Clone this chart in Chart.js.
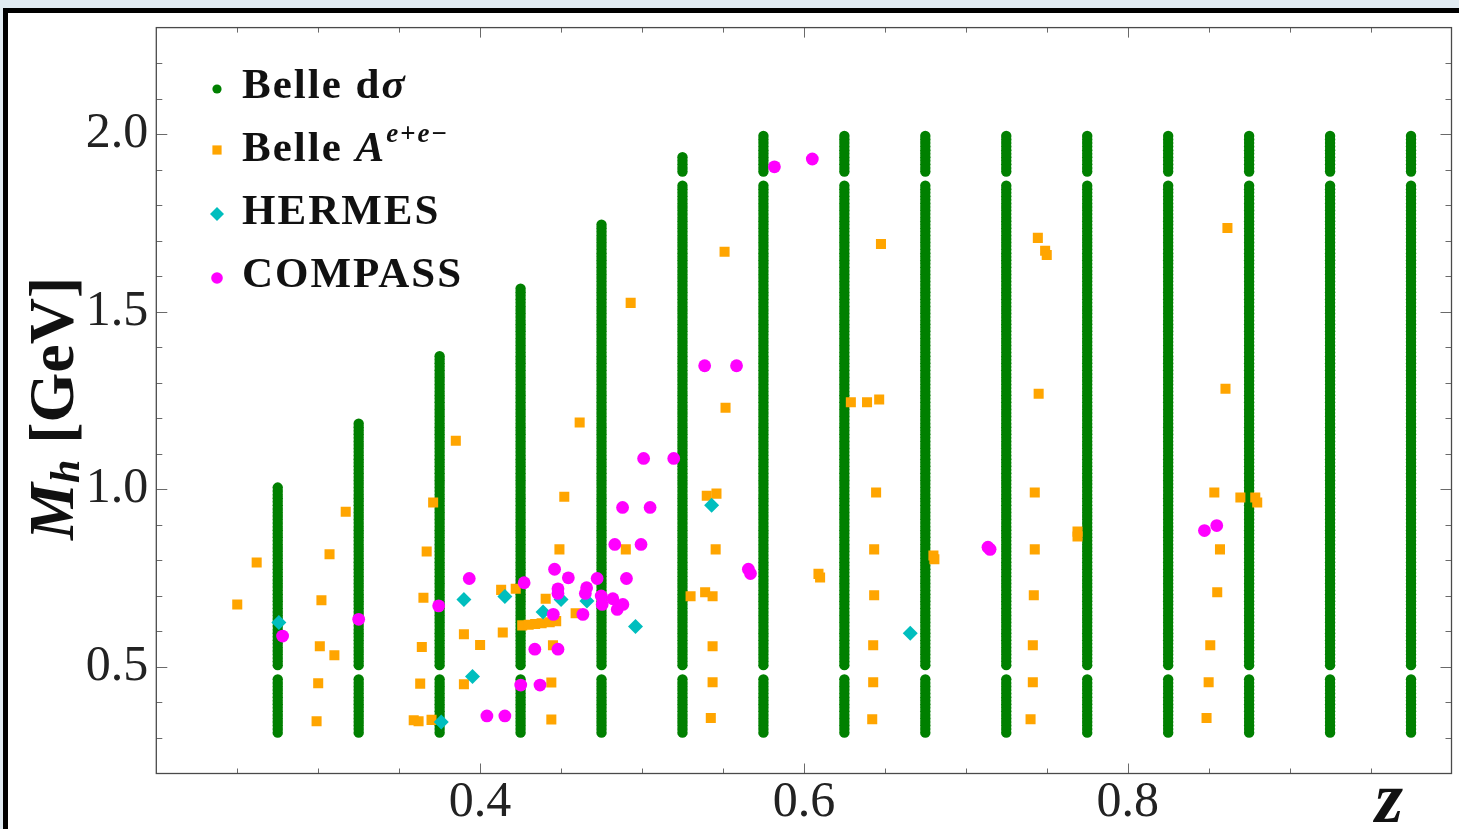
<!DOCTYPE html>
<html>
<head>
<meta charset="utf-8">
<title>Kinematic coverage in z and Mh</title>
<script src="https://cdn.jsdelivr.net/npm/chart.js@4.4.1/dist/chart.umd.min.js"></script>
<style>
  html, body { margin: 0; padding: 0; }
  body { width: 1459px; height: 829px; overflow: hidden; background: #e1ebf2; position: relative; }
  .frame { position: absolute; left: 3px; top: 8px; width: 1500px; height: 900px; background: #fff;
           border-left: 5px solid #000; border-top: 5px solid #000; }
  canvas { position: absolute; left: 0; top: 0; }
</style>
</head>
<body>
<div class="frame"></div>
<canvas id="coverage" width="1459" height="829"></canvas>
<script>
// Belle dσ: grid of z bins x Mh bins, each z bin cut at its own Mh maximum
const belleZ = [0.275, 0.325, 0.375, 0.425, 0.475, 0.525, 0.575, 0.625, 0.675, 0.725, 0.775, 0.825, 0.875, 0.925, 0.975];
const belleMhMax = [1.005, 1.185, 1.375, 1.565, 1.745, 1.935, 1.995, 1.995, 1.995, 1.995, 1.995, 1.995, 1.995, 1.995, 1.995];
const belleMh = [
    0.315, 0.325, 0.335, 0.345, 0.355, 0.365, 0.375, 0.385, 0.395, 0.405, 0.415, 0.425, 0.435, 0.445, 0.455, 0.465,
    0.505, 0.515, 0.525, 0.535, 0.545, 0.555, 0.565, 0.575, 0.585, 0.595,
    0.605, 0.615, 0.625, 0.635, 0.645, 0.655, 0.665, 0.675, 0.685, 0.695,
    0.705, 0.715, 0.725, 0.735, 0.745, 0.755, 0.765, 0.775, 0.785, 0.795,
    0.805, 0.815, 0.825, 0.835, 0.845, 0.855, 0.865, 0.875, 0.885, 0.895,
    0.905, 0.915, 0.925, 0.935, 0.945, 0.955, 0.965, 0.975, 0.985, 0.995,
    1.005, 1.015, 1.025, 1.035, 1.045, 1.055, 1.065, 1.075, 1.085, 1.095,
    1.105, 1.115, 1.125, 1.135, 1.145, 1.155, 1.165, 1.175, 1.185, 1.195,
    1.205, 1.215, 1.225, 1.235, 1.245, 1.255, 1.265, 1.275, 1.285, 1.295,
    1.305, 1.315, 1.325, 1.335, 1.345, 1.355, 1.365, 1.375, 1.385, 1.395,
    1.405, 1.415, 1.425, 1.435, 1.445, 1.455, 1.465, 1.475, 1.485, 1.495,
    1.505, 1.515, 1.525, 1.535, 1.545, 1.555, 1.565, 1.575, 1.585, 1.595,
    1.605, 1.615, 1.625, 1.635, 1.645, 1.655, 1.665, 1.675, 1.685, 1.695,
    1.705, 1.715, 1.725, 1.735, 1.745, 1.755, 1.765, 1.775, 1.785, 1.795,
    1.805, 1.815, 1.825, 1.835, 1.845, 1.855,
    1.895, 1.905, 1.915, 1.925, 1.935, 1.945, 1.955, 1.965, 1.975, 1.985, 1.995
];

// Belle A^{e+e-}
const belleAZ = [
    0.250, 0.262, 0.317, 0.307, 0.302, 0.301, 0.310, 0.300, 0.299,
    0.371, 0.367, 0.365, 0.364, 0.363, 0.359, 0.362, 0.370, 0.385,
    0.390, 0.400, 0.390, 0.414, 0.413, 0.422,
    0.426, 0.430, 0.434, 0.438, 0.443, 0.447,
    0.4405, 0.449, 0.459, 0.445, 0.444, 0.444, 0.490, 0.452, 0.4615, 0.493,
    0.530, 0.540, 0.546, 0.539, 0.5436, 0.5455, 0.5436, 0.5436, 0.5425, 0.551, 0.5516,
    0.609, 0.610, 0.629, 0.639, 0.6465, 0.6476, 0.6446, 0.6434, 0.6434, 0.6428, 0.6428, 0.6422,
    0.680, 0.6806,
    0.7445, 0.749, 0.750, 0.745, 0.7426, 0.7426, 0.742, 0.7414, 0.7414, 0.740, 0.769, 0.769,
    0.8616, 0.8604, 0.8535, 0.857, 0.8553, 0.851, 0.850, 0.8487, 0.8696, 0.8788, 0.880
];
const belleAMh = [
    0.676, 0.794, 0.937, 0.817, 0.688, 0.558, 0.533, 0.454, 0.347,
    0.963, 0.825, 0.695, 0.556, 0.453, 0.350, 0.347, 0.351, 1.137,
    0.592, 0.562, 0.451, 0.597, 0.717, 0.720,
    0.617, 0.619, 0.621, 0.623, 0.626, 0.629,
    0.692, 0.831, 0.651, 0.561, 0.456, 0.352, 0.831, 0.979, 1.188, 1.525,
    0.699, 0.982, 0.988, 0.710, 0.699, 0.831, 0.558, 0.457, 0.356, 1.669, 1.230,
    0.762, 0.752, 1.245, 1.245, 1.253, 1.691, 0.991, 0.831, 0.702, 0.561, 0.457, 0.353,
    0.814, 0.803,
    1.708, 1.672, 1.660, 1.269, 0.991, 0.831, 0.702, 0.561, 0.457, 0.353, 0.881, 0.867,
    1.736, 1.283, 0.991, 0.831, 0.710, 0.561, 0.457, 0.356, 0.977, 0.977, 0.963
];

// HERMES
const hermesZ = [0.2757, 0.376, 0.390, 0.3953, 0.4153, 0.4389, 0.450, 0.466, 0.496, 0.543, 0.6657];
const hermesMh = [0.625, 0.345, 0.690, 0.473, 0.698, 0.655, 0.690, 0.686, 0.614, 0.955, 0.595];

// COMPASS
const compassZ = [
    0.278, 0.325, 0.3744, 0.3933, 0.4042, 0.4153, 0.4272, 0.4251, 0.437, 0.4338, 0.4481,
    0.446, 0.4545, 0.4481, 0.4481, 0.4452, 0.4635, 0.4658, 0.465, 0.4723, 0.4748, 0.4754,
    0.482, 0.4847, 0.4882, 0.4832, 0.4994, 0.4904, 0.488, 0.505, 0.501, 0.5196,
    0.5387, 0.5584, 0.5657, 0.567, 0.5818, 0.6052, 0.7137, 0.715, 0.8474, 0.855
];
const compassMh = [
    0.587, 0.634, 0.672, 0.749, 0.362, 0.362, 0.737, 0.449, 0.449, 0.550, 0.550,
    0.775, 0.751, 0.720, 0.707, 0.648, 0.648, 0.723, 0.707, 0.749, 0.700, 0.676,
    0.692, 0.662, 0.676, 0.845, 0.845, 0.749, 0.949, 0.949, 1.087, 1.087,
    1.348, 1.348, 0.775, 0.763, 1.908, 1.930, 0.837, 0.831, 0.884, 0.898
];

// axis ticks
const xTickLabels = [0.4, 0.6, 0.8];
const xMinorTicks = [0.25, 0.3, 0.35, 0.45, 0.5, 0.55, 0.65, 0.7, 0.75, 0.85, 0.9, 0.95];
const yTickLabels = [0.5, 1.0, 1.5, 2.0];
const yMinorTicks = [0.3, 0.4, 0.6, 0.7, 0.8, 0.9, 1.1, 1.2, 1.3, 1.4, 1.6, 1.7, 1.8, 1.9, 2.1, 2.2];

const GREEN = '#008000';
const ORANGE = '#ffa500';
const CYAN = '#00bebe';
const MAGENTA = '#ff00ff';
const FONT = '"Liberation Serif", "Times New Roman", serif';

function belleGrid() {
    const points = [];
    belleZ.forEach((z, i) => {
        belleMh.forEach(mh => {
            if (mh <= belleMhMax[i] + 1e-9) points.push({ x: z, y: mh });
        });
    });
    return points;
}

function zip(xs, ys) {
    return xs.map((x, i) => ({ x: x, y: ys[i] }));
}

function drawRuns(ctx, x, y, runs) {
    runs.forEach(run => {
        ctx.font = run.font;
        ctx.fillText(run.text, x, y + (run.dy || 0));
        x += ctx.measureText(run.text).width;
    });
}

function drawMarker(ctx, style, color, x, y, r) {
    ctx.fillStyle = color;
    ctx.beginPath();
    if (style === 'rect') {
        ctx.rect(x - r, y - r, 2 * r, 2 * r);
    } else if (style === 'rectRot') {
        ctx.moveTo(x - r, y);
        ctx.lineTo(x, y - r);
        ctx.lineTo(x + r, y);
        ctx.lineTo(x, y + r);
        ctx.closePath();
    } else {
        ctx.arc(x, y, r, 0, Math.PI * 2);
    }
    ctx.fill();
}

// frame with inward ticks on all four sides
const frameTicks = {
    id: 'frameTicks',
    beforeDatasetsDraw(chart) {
        const { ctx, chartArea: a, scales: { x, y } } = chart;
        ctx.save();
        ctx.strokeStyle = '#6a6a6a';
        ctx.lineWidth = 1;
        ctx.beginPath();
        const xt = xTickLabels.map(v => [v, 10]).concat(xMinorTicks.map(v => [v, 5]));
        xt.forEach(([v, len]) => {
            const px = Math.round(x.getPixelForValue(v)) + 0.5;
            ctx.moveTo(px, a.bottom); ctx.lineTo(px, a.bottom - len);
            ctx.moveTo(px, a.top); ctx.lineTo(px, a.top + len);
        });
        const yt = yTickLabels.map(v => [v, 11]).concat(yMinorTicks.map(v => [v, 6]));
        yt.forEach(([v, len]) => {
            const py = Math.round(y.getPixelForValue(v)) + 0.5;
            ctx.moveTo(a.left, py); ctx.lineTo(a.left + len, py);
            ctx.moveTo(a.right, py); ctx.lineTo(a.right - len, py);
        });
        ctx.stroke();
        ctx.strokeStyle = '#4a4a4a';
        ctx.lineWidth = 1.3;
        ctx.strokeRect(a.left, a.top, a.right - a.left, a.bottom - a.top);
        ctx.restore();
    }
};

// legend and axis titles, with sub/superscripts
const labels = {
    id: 'labels',
    afterDraw(chart) {
        const ctx = chart.ctx;
        ctx.save();
        ctx.textAlign = 'left';
        ctx.textBaseline = 'alphabetic';

        const B = 'bold 43px ' + FONT;
        const BI = 'italic bold 43px ' + FONT;
        const SB = 'bold 27px ' + FONT;
        const SBI = 'italic bold 27px ' + FONT;

        drawMarker(ctx, 'circle', GREEN, 217, 89, 4.6);
        drawMarker(ctx, 'rect', ORANGE, 217, 150, 4.6);
        drawMarker(ctx, 'rectRot', CYAN, 217, 214, 7);
        drawMarker(ctx, 'circle', MAGENTA, 217, 278, 5.8);

        ctx.fillStyle = '#111';
        ctx.letterSpacing = '2px';
        drawRuns(ctx, 242, 98, [{ text: 'Belle d', font: B }, { text: 'σ', font: BI }]);
        drawRuns(ctx, 242, 161, [
            { text: 'Belle ', font: B }, { text: 'A', font: BI },
            { text: 'e', font: SBI, dy: -19 }, { text: '+', font: SB, dy: -19 },
            { text: 'e', font: SBI, dy: -19 }, { text: '−', font: SB, dy: -19 }
        ]);
        drawRuns(ctx, 242, 224, [{ text: 'HERMES', font: B }]);
        drawRuns(ctx, 242, 287, [{ text: 'COMPASS', font: B }]);

        // y title, reading upwards
        ctx.letterSpacing = '0px';
        ctx.save();
        ctx.translate(73, 540);
        ctx.rotate(-Math.PI / 2);
        drawRuns(ctx, 0, 0, [
            { text: 'M', font: 'italic bold 64px ' + FONT },
            { text: 'h', font: 'italic bold 42px ' + FONT, dy: 6 },
            { text: ' [GeV]', font: 'bold 64px ' + FONT }
        ]);
        ctx.restore();

        // x title
        ctx.font = 'italic bold 72px ' + FONT;
        ctx.textAlign = 'center';
        ctx.fillText('z', 1389, 822);
        ctx.restore();
    }
};

function tickFont() {
    return { family: FONT, size: 50, lineHeight: 1.0 };
}

const chart = new Chart(document.getElementById('coverage'), {
    type: 'scatter',
    data: {
        datasets: [
            { label: 'Belle dσ', data: belleGrid(), pointStyle: 'circle', pointRadius: 5.2,
              backgroundColor: GREEN, borderWidth: 0, order: 4 },
            { label: 'Belle Ae+e-', data: zip(belleAZ, belleAMh), pointStyle: 'rect', pointRadius: 7.1,
              backgroundColor: ORANGE, borderWidth: 0, order: 3 },
            { label: 'HERMES', data: zip(hermesZ, hermesMh), pointStyle: 'rectRot', pointRadius: 7.5,
              backgroundColor: CYAN, borderWidth: 0, order: 2 },
            { label: 'COMPASS', data: zip(compassZ, compassMh), pointStyle: 'circle', pointRadius: 6.4,
              backgroundColor: MAGENTA, borderWidth: 0, order: 1 }
        ]
    },
    options: {
        responsive: false,
        animation: false,
        events: [],
        devicePixelRatio: 1,
        layout: { padding: { left: 0, right: 0, top: 27.6, bottom: 0 } },
        plugins: { legend: { display: false }, tooltip: { enabled: false } },
        scales: {
            x: {
                type: 'linear', min: 0.2, max: 1.0,
                grid: { display: false, drawTicks: false },
                border: { display: false },
                ticks: { font: tickFont(), color: '#222', padding: 4, maxRotation: 0, autoSkip: false,
                         callback: v => v.toFixed(1) },
                afterBuildTicks: s => { s.ticks = xTickLabels.map(v => ({ value: v })); },
                afterFit: s => { s.height = 55.5; s.paddingLeft = 0; s.paddingRight = 0; }
            },
            y: {
                type: 'linear', min: 0.2, max: 2.3,
                grid: { display: false, drawTicks: false },
                border: { display: false },
                ticks: { font: tickFont(), color: '#222', padding: 8, autoSkip: false,
                         callback: v => v.toFixed(1) },
                afterBuildTicks: s => { s.ticks = yTickLabels.map(v => ({ value: v })); },
                afterFit: s => { s.width = 156.3; s.paddingTop = 0; s.paddingBottom = 0; }
            }
        }
    },
    plugins: [frameTicks, labels]
});
</script>
</body>
</html>
